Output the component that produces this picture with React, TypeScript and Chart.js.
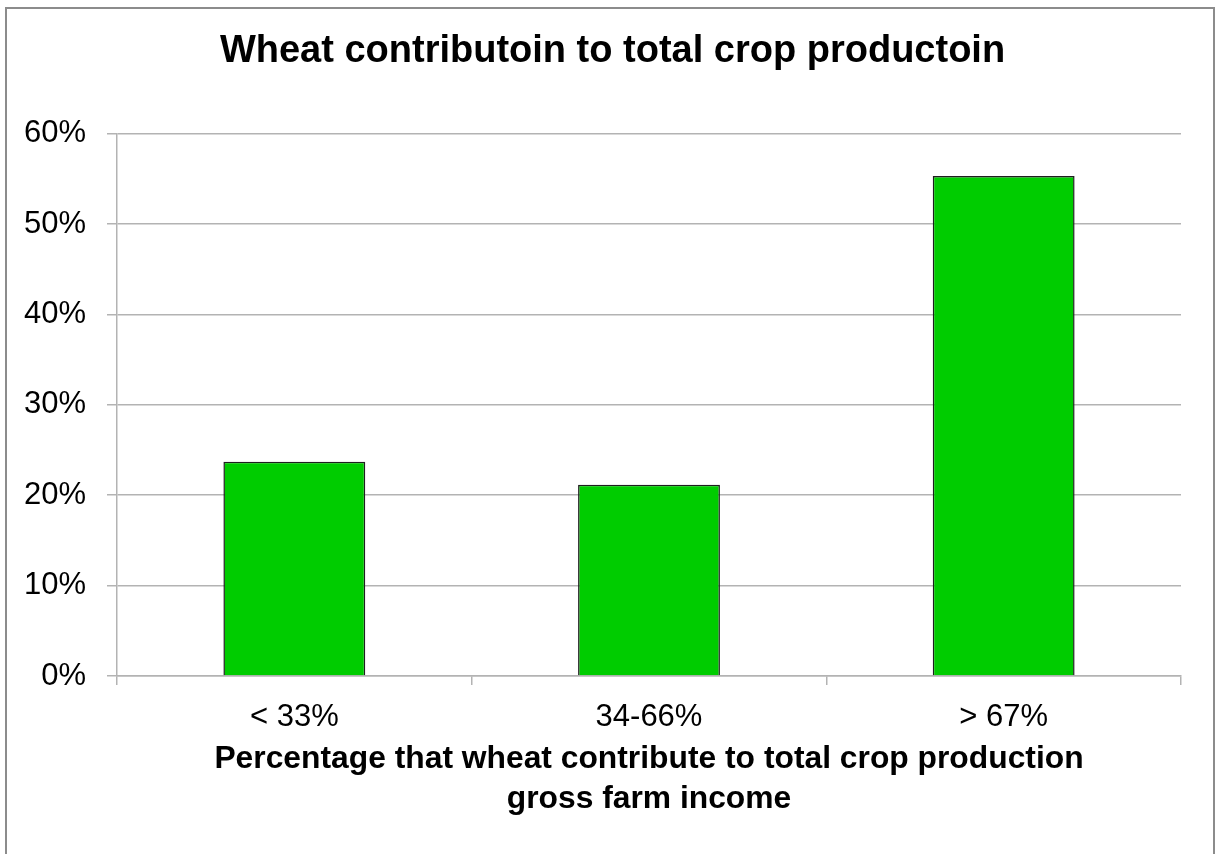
import React, { useEffect, useRef } from "react";
import { Chart, registerables } from "chart.js";

Chart.register(...registerables);

const categories = ["< 33%", "34-66%", "> 67%"];
const shares = [23.7, 21.15, 55.3];
const yTicks = [0, 10, 20, 30, 40, 50, 60];
const chartTitle = "Wheat contributoin to total crop productoin";
const xAxisTitle = [
  "Percentage that wheat contribute to total crop production",
  "gross farm income",
];

const FONT = "'Liberation Sans', Arial, Helvetica, sans-serif";
const GRID = "#b3b3b3";
const TITLE_SHIFT = 22;

// Nudges the title block right so it sits centred over the whole frame
// rather than over the padded layout width.
const titleShift = {
  id: "titleShift",
  afterLayout(chart: any) {
    const block = chart.titleBlock;
    if (block) {
      block.left += TITLE_SHIFT;
      block.right += TITLE_SHIFT;
    }
  },
};

export default function App() {
  const canvasRef = useRef<HTMLCanvasElement | null>(null);

  useEffect(() => {
    const canvas = canvasRef.current;
    if (!canvas) return;
    const chart = new Chart(canvas, {
      type: "bar",
      data: {
        labels: categories,
        datasets: [
          {
            data: shares,
            backgroundColor: "#00cc00",
            borderColor: "#1e1e1e",
            borderWidth: 1.5,
            barPercentage: 0.4,
            categoryPercentage: 1,
          },
        ],
      },
      plugins: [titleShift],
      options: {
        responsive: false,
        animation: false,
        devicePixelRatio: 1,
        layout: { padding: { left: 0, right: 35, top: 0, bottom: 0 } },
        plugins: {
          legend: { display: false },
          tooltip: { enabled: false },
          title: {
            display: true,
            text: chartTitle,
            color: "#000",
            font: { family: FONT, size: 38, weight: "bold", lineHeight: 1.2 },
            padding: { top: 29, bottom: 59 },
          },
        },
        scales: {
          x: {
            offset: true,
            grid: {
              offset: true,
              drawOnChartArea: false,
              drawTicks: true,
              tickLength: 9,
              color: GRID,
              lineWidth: 1.5,
            },
            border: { display: true, color: GRID, width: 1.5 },
            ticks: {
              color: "#000",
              font: { family: FONT, size: 31 },
              padding: 14,
              maxRotation: 0,
            },
            title: {
              display: true,
              text: xAxisTitle,
              color: "#000",
              font: { family: FONT, size: 31.8, weight: "bold", lineHeight: 1.26 },
              padding: { top: 0, bottom: 35 },
            },
            afterFit: (scale: any) => {
              scale.height = 178;
            },
          },
          y: {
            min: 0,
            max: 60,
            afterBuildTicks: (scale: any) => {
              scale.ticks = yTicks.map((v) => ({ value: v }));
            },
            grid: {
              color: GRID,
              lineWidth: 1.5,
              drawTicks: true,
              tickLength: 10,
            },
            border: { display: true, color: GRID, width: 1.5 },
            ticks: {
              color: "#000",
              font: { family: FONT, size: 31 },
              padding: 21,
              callback: (v: any) => `${v}%`,
            },
            afterFit: (scale: any) => {
              scale.width = 117;
            },
          },
        },
      },
    });
    return () => chart.destroy();
  }, []);

  return (
    <div
      style={{
        position: "fixed",
        left: 0,
        top: 0,
        width: 1216,
        height: 854,
        background: "#fff",
        overflow: "hidden",
      }}
    >
      <div
        style={{
          position: "absolute",
          left: 5,
          top: 7,
          width: 1206,
          height: 900,
          borderLeft: "2px solid #8c8c8c",
          borderTop: "2px solid #8c8c8c",
          borderRight: "2px solid #8c8c8c",
        }}
      />
      <canvas
        ref={canvasRef}
        width={1216}
        height={854}
        style={{ position: "absolute", left: 0, top: 0 }}
      />
    </div>
  );
}
